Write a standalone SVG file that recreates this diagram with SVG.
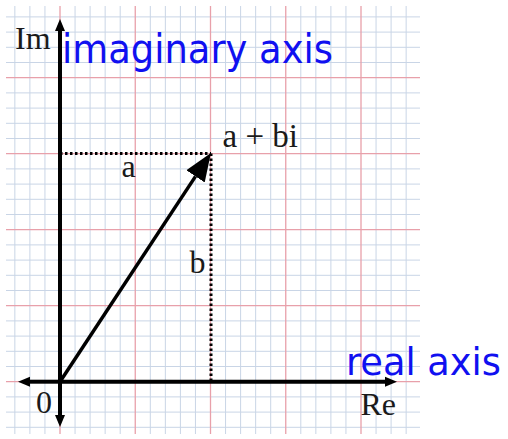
<svg xmlns="http://www.w3.org/2000/svg" width="508" height="439" viewBox="0 0 508 439">
<style>
.minor{stroke:#c9d5e6;stroke-width:1;fill:none}
.major{stroke:#e8a0aa;stroke-width:1.3;fill:none}
.axis{stroke:#000;stroke-width:4;fill:none}
.vec{stroke:#000;stroke-width:3.5;fill:none}
.dot{stroke:#000;stroke-width:3;stroke-dasharray:2.5 2.5;fill:none}
.serif{font-family:"Liberation Serif","Times New Roman",serif;font-size:32px;fill:#1a1a1a}
.blue{font-family:"DejaVu Sans","Liberation Sans",sans-serif;font-size:40px;fill:#1010f0}
</style>
<defs>
<marker id="ax" markerUnits="userSpaceOnUse" markerWidth="14" markerHeight="12" viewBox="0 -6 14 12" refX="0" refY="0" orient="auto">
<path d="M0,-5 L12,0 L0,5 Z" fill="#000"/>
</marker>
<marker id="vh" markerUnits="userSpaceOnUse" markerWidth="30" markerHeight="24" viewBox="0 -12 30 24" refX="0" refY="0" orient="auto">
<path d="M0,-11 L28,0 L0,11 Z" fill="#000"/>
</marker>
</defs>
<rect width="508" height="439" fill="#fff"/>
<g id="grid">
<path class="minor" d="M6,427.3H420M6,412.1H420M6,396.9H420M6,366.5H420M6,351.3H420M6,336.1H420M6,320.9H420M6,290.5H420M6,275.3H420M6,260.1H420M6,244.9H420M6,214.5H420M6,199.3H420M6,184.1H420M6,168.9H420M6,138.5H420M6,123.3H420M6,108.1H420M6,92.9H420M6,62.5H420M6,47.3H420M6,32.1H420M6,16.9H420
M14.85,6V434M29.9,6V434M44.95,6V434M75.05,6V434M90.1,6V434M105.15,6V434M120.2,6V434M150.3,6V434M165.35,6V434M180.4,6V434M195.45,6V434M225.55,6V434M240.6,6V434M255.65,6V434M270.7,6V434M300.8,6V434M315.85,6V434M330.9,6V434M345.95,6V434M376.05,6V434M391.1,6V434M406.15,6V434"/>
<path class="major" d="M6,381.7H420M6,305.7H420M6,229.7H420M6,153.7H420M6,77.7H420M60,6V434M135.25,6V434M210.5,6V434M285.75,6V434M361,6V434"/>
</g>
<g id="connectors">
<line class="axis" x1="60" y1="381.7" x2="60" y2="31" marker-end="url(#ax)"/>
<line class="axis" x1="60" y1="381.7" x2="60" y2="415" marker-end="url(#ax)"/>
<line class="axis" x1="60" y1="381.7" x2="30" y2="381.7" marker-end="url(#ax)"/>
<line class="axis" x1="60" y1="381.7" x2="385" y2="381.7" marker-end="url(#ax)"/>
<line class="dot" x1="60" y1="153.5" x2="211" y2="153.5"/>
<line class="dot" x1="211" y1="153.5" x2="211" y2="381"/>
<line class="vec" x1="60" y1="381.7" x2="195.5" y2="176.4" marker-end="url(#vh)"/>
</g>
<g id="label-im"><text class="serif" x="15" y="49">Im</text></g>
<g id="label-imaginary"><text class="blue" x="62" y="62.7" textLength="271" lengthAdjust="spacingAndGlyphs">imaginary axis</text></g>
<g id="label-abi"><text class="serif" x="222.5" y="146.7" style="font-size:33px">a + bi</text></g>
<g id="label-a"><text class="serif" x="121.5" y="176.7">a</text></g>
<g id="label-b"><text class="serif" x="189.5" y="273.3">b</text></g>
<g id="label-0"><text class="serif" x="36" y="412.5">0</text></g>
<g id="label-re"><text class="serif" x="360.5" y="415">Re</text></g>
<g id="label-real"><text class="blue" x="346" y="375" style="font-size:37px" textLength="155" lengthAdjust="spacingAndGlyphs">real axis</text></g>
</svg>
